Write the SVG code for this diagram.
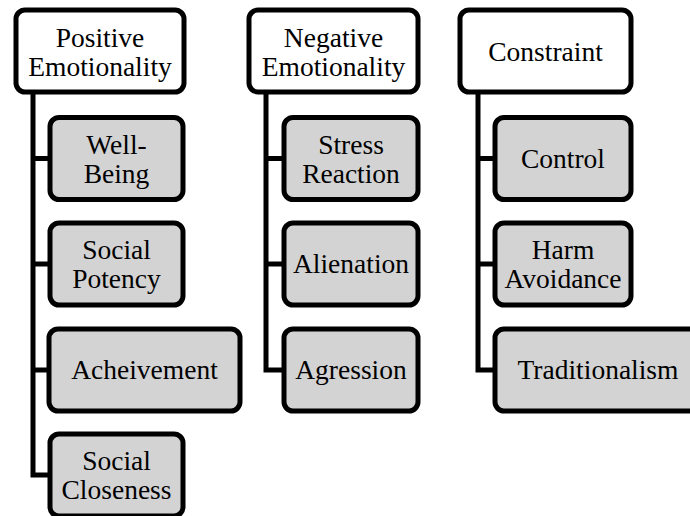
<svg xmlns="http://www.w3.org/2000/svg" width="690" height="516" viewBox="0 0 690 516">
<style>
.p{fill:#ffffff;stroke:#000;stroke-width:5}
.c{fill:#d3d3d3;stroke:#000;stroke-width:5}
.l{fill:none;stroke:#000;stroke-width:5;stroke-linejoin:miter}
</style>
<rect width="690" height="516" fill="#fff"/>
<g id="connectors">
<path class="l" d="M33 92 V475 H50 M33 158.5 H50 M33 264 H50 M33 370 H50"/>
<path class="l" d="M266 92 V370 H284 M266 158.5 H284 M266 264 H284"/>
<path class="l" d="M478 92 V370 H495 M478 158.5 H495 M478 264 H495"/>
</g>
<g id="positive-emotionality">
<rect class="p" x="16" y="10" width="168" height="82" rx="9"/>
<text font-family="Liberation Serif" font-size="27.5" text-anchor="middle" x="100" y="47">Positive</text>
<text font-family="Liberation Serif" font-size="27.5" text-anchor="middle" x="100" y="76">Emotionality</text>
</g>
<g id="well-being">
<rect class="c" x="50" y="117.5" width="133" height="82" rx="9"/>
<text font-family="Liberation Serif" font-size="27.5" text-anchor="middle" x="116.5" y="153.5">Well-</text>
<text font-family="Liberation Serif" font-size="27.5" text-anchor="middle" x="116.5" y="182.5">Being</text>
</g>
<g id="social-potency">
<rect class="c" x="50" y="223" width="133" height="82" rx="9"/>
<text font-family="Liberation Serif" font-size="27.5" text-anchor="middle" x="116.5" y="258.5">Social</text>
<text font-family="Liberation Serif" font-size="27.5" text-anchor="middle" x="116.5" y="287.5">Potency</text>
</g>
<g id="acheivement">
<rect class="c" x="49" y="329" width="191" height="82" rx="9"/>
<text font-family="Liberation Serif" font-size="27.5" text-anchor="middle" x="144.5" y="379">Acheivement</text>
</g>
<g id="social-closeness">
<rect class="c" x="50" y="434" width="133" height="82" rx="9"/>
<text font-family="Liberation Serif" font-size="27.5" text-anchor="middle" x="116.5" y="470">Social</text>
<text font-family="Liberation Serif" font-size="27.5" text-anchor="middle" x="116.5" y="499">Closeness</text>
</g>
<g id="negative-emotionality">
<rect class="p" x="249" y="10" width="169" height="82" rx="9"/>
<text font-family="Liberation Serif" font-size="27.5" text-anchor="middle" x="333.5" y="47">Negative</text>
<text font-family="Liberation Serif" font-size="27.5" text-anchor="middle" x="333.5" y="76">Emotionality</text>
</g>
<g id="stress-reaction">
<rect class="c" x="284" y="117.5" width="134" height="82" rx="9"/>
<text font-family="Liberation Serif" font-size="27.5" text-anchor="middle" x="351" y="153.5">Stress</text>
<text font-family="Liberation Serif" font-size="27.5" text-anchor="middle" x="351" y="182.5">Reaction</text>
</g>
<g id="alienation">
<rect class="c" x="284" y="223" width="134" height="82" rx="9"/>
<text font-family="Liberation Serif" font-size="27.5" text-anchor="middle" x="351" y="273">Alienation</text>
</g>
<g id="agression">
<rect class="c" x="284" y="329" width="134" height="82" rx="9"/>
<text font-family="Liberation Serif" font-size="27.5" text-anchor="middle" x="351" y="379">Agression</text>
</g>
<g id="constraint">
<rect class="p" x="460" y="10" width="171" height="82" rx="9"/>
<text font-family="Liberation Serif" font-size="27.5" text-anchor="middle" x="545.5" y="61">Constraint</text>
</g>
<g id="control">
<rect class="c" x="495" y="117.5" width="136" height="82" rx="9"/>
<text font-family="Liberation Serif" font-size="27.5" text-anchor="middle" x="563" y="167.5">Control</text>
</g>
<g id="harm-avoidance">
<rect class="c" x="495" y="223" width="136" height="82" rx="9"/>
<text font-family="Liberation Serif" font-size="27.5" text-anchor="middle" x="563" y="258.5">Harm</text>
<text font-family="Liberation Serif" font-size="27.5" text-anchor="middle" x="563" y="287.5">Avoidance</text>
</g>
<g id="traditionalism">
<rect class="c" x="495" y="329" width="206" height="82" rx="9"/>
<text font-family="Liberation Serif" font-size="27.5" text-anchor="middle" x="598" y="379">Traditionalism</text>
</g>
</svg>
